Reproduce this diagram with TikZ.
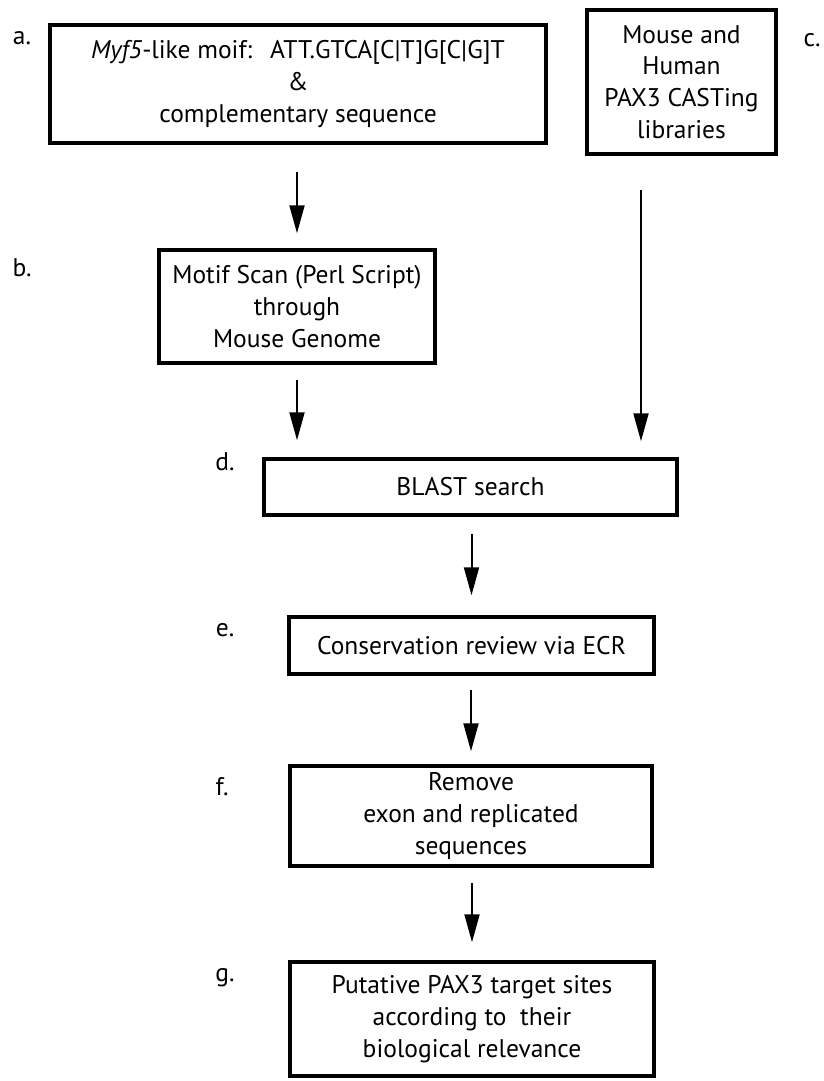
\documentclass[tikz,border=0pt]{standalone}
\usepackage{fontspec}
\setmainfont{PT Sans}
\usetikzlibrary{arrows.meta}
\begin{document}
\begin{tikzpicture}[x=1pt,y=-1pt,
  box/.style={draw, line width=3.5pt, inner sep=0pt, align=center, font=\fontsize{25.5}{31.8}\selectfont},
  lbl/.style={font=\fontsize{25.5}{28}\selectfont, inner sep=0pt},
  arr/.style={line width=2pt, -{Triangle[width=15pt,length=28pt]}}]
\useasboundingbox (0,0) rectangle (823,1081);
% boxes
\node[box, minimum width=496pt, minimum height=118pt] (a) at (298,84)
  {\textit{Myf5}-like moif:\hspace{0.7em}ATT.GTCA[C|T]G[C|G]T\\\&\\complementary sequence};
\node[box, minimum width=189pt, minimum height=144pt] (c) at (681.5,82)
  {Mouse and\\Human\\PAX3 CASTing\\libraries};
\node[box, minimum width=276pt, minimum height=113pt] (b) at (297,306.5)
  {Motif Scan (Perl Script)\\through\\Mouse Genome};
\node[box, minimum width=413pt, minimum height=56pt] (d) at (470.5,487)
  {BLAST search};
\node[box, minimum width=365pt, minimum height=57pt] (e) at (471.5,645.5)
  {Conservation review via ECR};
\node[box, minimum width=362pt, minimum height=100pt] (f) at (471,816)
  {Remove\\exon and replicated\\sequences};
\node[box, minimum width=364pt, minimum height=114pt] (g) at (472,1019)
  {Putative PAX3 target sites\\according to\ \ their\\biological relevance};
% step labels
\node[lbl] (la) at (22,38) {a.};
\node[lbl] (lb) at (22,268) {b.};
\node[lbl] (lc) at (812,40) {c.};
\node[lbl] (ld) at (225,462) {d.};
\node[lbl] (le) at (225,630) {e.};
\node[lbl] (lf) at (222,787) {f.};
\node[lbl] (lg) at (225,978) {g.};
% arrows
\draw[arr, shorten <=27pt, shorten >=15pt] (a.south -| b.north) -- (b.north);
\draw[arr, shorten <=15pt, shorten >=17pt] (b.south) -- (b.south |- d.north);
\coordinate (cs) at ([xshift=-40.5pt]c.south);
\draw[arr, shorten <=34pt, shorten >=16pt] (cs) -- (cs |- d.north);
\draw[arr, shorten <=17pt, shorten >=20pt] (d.south -| e.north) -- (e.north);
\draw[arr, shorten <=14pt, shorten >=13pt] (e.south -| f.north) -- (f.north);
\draw[arr, shorten <=15pt, shorten >=18pt] (f.south -| g.north) -- (g.north);
\end{tikzpicture}
\end{document}
